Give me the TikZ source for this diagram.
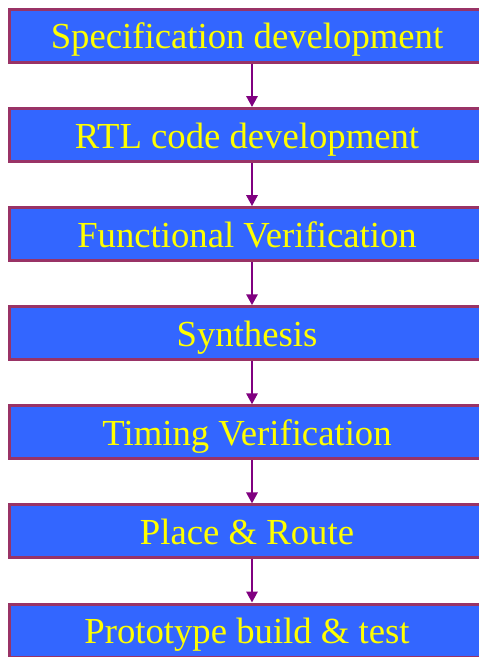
\documentclass[tikz,border=0pt]{standalone}
\usepackage{fontspec}
\setmainfont{Liberation Serif}
\usetikzlibrary{arrows.meta}
\definecolor{boxfill}{HTML}{3366FF}
\definecolor{boxline}{HTML}{993366}
\definecolor{arrowc}{HTML}{800080}
\definecolor{txt}{HTML}{FFFF00}
\begin{document}
\begin{tikzpicture}[x=1pt,y=1pt,
  stage/.style={draw=boxline, fill=boxfill, line width=3pt, minimum width=475pt, minimum height=53pt, inner sep=0pt, text height=26pt, text depth=0pt, text=txt, font=\fontsize{36.7}{40}\selectfont},
  flow/.style={draw=arrowc, line width=2.7pt, -{Triangle[width=11pt,length=11pt]}}]
\useasboundingbox (0,0) rectangle (479,657);
\clip (0,0) rectangle (479,657);
\fill[white] (0,0) rectangle (479,657);
\node[stage] (b1) at (247,{657-36}) {Specification development};
\node[stage] (b2) at (247,{657-36-99.1}) {RTL code development};
\node[stage] (b3) at (247,{657-36-2*99.1}) {Functional Verification};
\node[stage] (b4) at (247,{657-36-3*99.1}) {Synthesis};
\node[stage] (b5) at (247,{657-36-4*99.1}) {Timing Verification};
\node[stage] (b6) at (247,{657-36-5*99.1}) {Place \& Route};
\node[stage] (b7) at (247,{657-36-6*99.1}) {Prototype build \& test};
\foreach \a/\b in {b1/b2,b2/b3,b3/b4,b4/b5,b5/b6,b6/b7}
  \draw[flow] ([xshift=5pt]\a.south) -- ([xshift=5pt]\b.north);
\end{tikzpicture}
\end{document}
